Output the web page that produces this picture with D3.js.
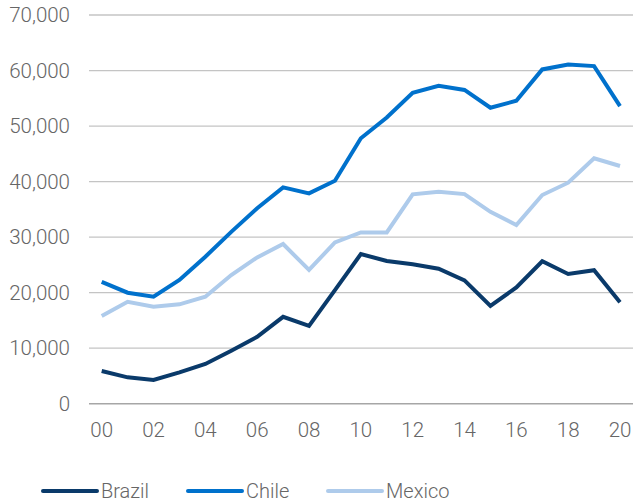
<!DOCTYPE html>
<html><head><meta charset="utf-8">
<script src="https://cdn.jsdelivr.net/npm/d3@7"></script>
<style>body{margin:0;background:#fff;}svg{display:block;}</style>
</head><body>
<svg id="c" width="633" height="502"></svg>
<script>
const years = ["00","01","02","03","04","05","06","07","08","09","10","11","12","13","14","15","16","17","18","19","20"];
const xTickLabels = ["00","02","04","06","08","10","12","14","16","18","20"];
const yTicks = [0,10000,20000,30000,40000,50000,60000,70000];
const brazil = [5900,4750,4270,5650,7150,9550,12050,15650,14000,20450,26950,25700,25100,24300,22200,17600,20950,25650,23350,24050,18250];
const chile  = [21950,19990,19270,22280,26470,30950,35200,38950,37880,40150,47800,51550,56000,57250,56500,53300,54550,60200,61100,60800,53600];
const mexico = [15800,18350,17450,17900,19270,23180,26350,28750,24080,29050,30850,30850,37700,38180,37750,34550,32180,37580,39800,44200,42800];
const seriesNames = ["Brazil","Chile","Mexico"];
const colors = ["#0a3a6a","#0071cc","#aecbeb"];

const svg = d3.select("#c");
const x = d3.scalePoint().domain(years).range([101.7, 620]);
const y = d3.scaleLinear().domain([0,70000]).range([403.7, 15]);
const font = "Roboto, 'Liberation Sans', Arial, sans-serif";
const fw = 300;

// gridlines
svg.append("g").selectAll("line").data(yTicks).join("line")
  .attr("x1", 89).attr("x2", 633)
  .attr("y1", d => y(d)).attr("y2", d => y(d))
  .attr("stroke", d => d === 0 ? "#a6a6a6" : "#c4c4c4")
  .attr("stroke-width", d => d === 0 ? 1.6 : 1.3);

// y labels
svg.append("g").selectAll("text").data(yTicks).join("text")
  .attr("x", 70).attr("y", d => y(d) + 7)
  .attr("text-anchor", "end")
  .attr("font-family", font).attr("font-weight", fw).attr("font-size", 20.5)
  .attr("fill", "#666")
  .text(d => d3.format(",")(d));

// x labels
svg.append("g").selectAll("text").data(xTickLabels).join("text")
  .attr("x", d => x(d)).attr("y", 436.5)
  .attr("text-anchor", "middle")
  .attr("font-family", font).attr("font-weight", fw).attr("font-size", 20.5)
  .attr("fill", "#666")
  .text(d => d);

const line = d3.line().x((d,i) => x(years[i])).y(d => y(d));
const data = [brazil, chile, mexico];
[2,1,0].forEach(i => {
  svg.append("path").datum(data[i])
    .attr("d", line)
    .attr("fill", "none")
    .attr("stroke", colors[i])
    .attr("stroke-width", 4)
    .attr("stroke-linejoin", "miter");
});

// legend
const legX = [43, 188, 328];
const leg = svg.append("g");
seriesNames.forEach((n,i) => {
  leg.append("line").attr("x1", legX[i]).attr("x2", legX[i] + 54)
    .attr("y1", 491).attr("y2", 491)
    .attr("stroke", colors[i]).attr("stroke-width", 4).attr("stroke-linecap","round");
  leg.append("text").attr("x", legX[i] + 58).attr("y", 497.5)
    .attr("font-family", font).attr("font-weight", fw).attr("font-size", 20)
    .attr("fill", "#666").text(n);
});
</script>
</body></html>
